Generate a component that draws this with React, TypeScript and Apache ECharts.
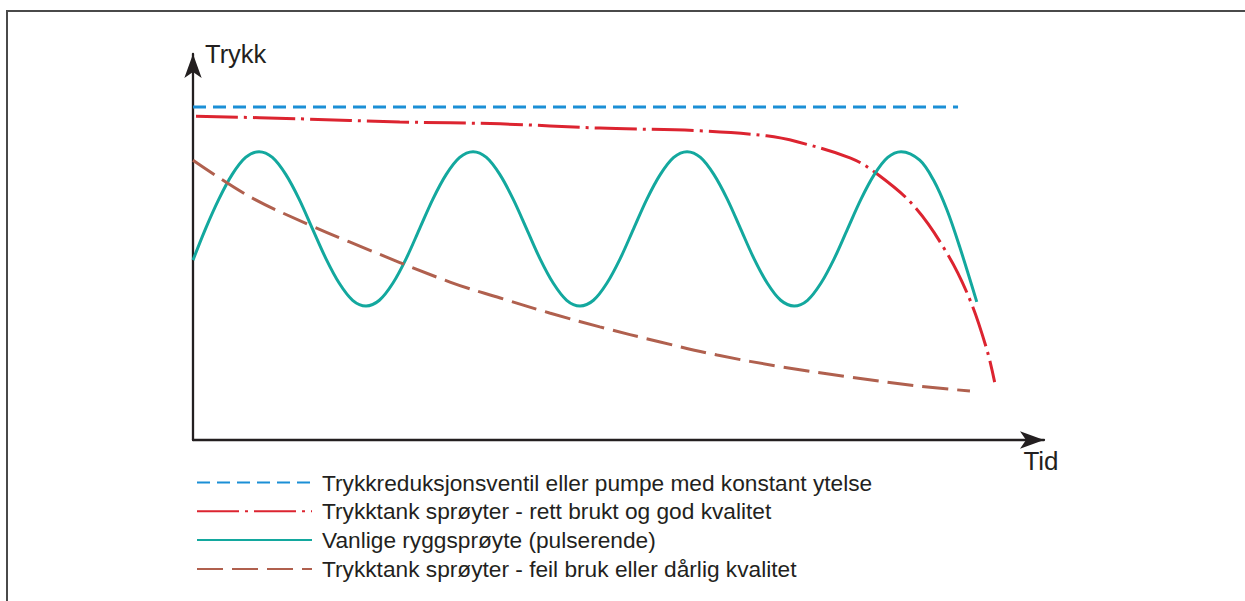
import React, { useEffect, useRef } from "react";
import * as echarts from "echarts";

const seriesNames = [
  "Trykkreduksjonsventil eller pumpe med konstant ytelse",
  "Trykktank sprøyter - rett brukt og god kvalitet",
  "Vanlige ryggsprøyte (pulserende)",
  "Trykktank sprøyter - feil bruk eller dårlig kvalitet",
];

const constantPressure: [number, number][] = [
  [0, 86.3],
  [89.9, 86.3],
];

const tankGood: [number, number][] = [
  [0.35, 83.9], [12.6, 83.2], [24.3, 82.4], [36.1, 81.9], [47.8, 80.8],
  [59.6, 80.1], [67.4, 78.8], [71.1, 77.2], [77.2, 73.1], [80.1, 69.4],
  [84.6, 60.9], [88.6, 48.4], [91.3, 36.3], [93.3, 23.3], [94.2, 15.0],
];

const backpack: [number, number][] = [
  [0, 46.6], [1.47, 54.7], [3.04, 62.4], [4.61, 68.8], [6.18, 73.2],
  [7.76, 74.7], [9.33, 73.2], [10.9, 68.8], [12.47, 62.4], [14.04, 54.7],
  [15.62, 47.0], [17.19, 40.6], [18.76, 36.2], [20.33, 34.7], [21.9, 36.2],
  [23.48, 40.6], [25.05, 47.0], [26.62, 54.7], [28.19, 62.4], [29.76, 68.8],
  [31.34, 73.2], [32.91, 74.7], [34.48, 73.2], [36.05, 68.8], [37.62, 62.4],
  [39.2, 54.7], [40.77, 47.0], [42.34, 40.6], [43.91, 36.2], [45.48, 34.7],
  [47.06, 36.2], [48.63, 40.6], [50.2, 47.0], [51.77, 54.7], [53.34, 62.4],
  [54.92, 68.8], [56.49, 73.2], [58.06, 74.7], [59.63, 73.2], [61.2, 68.8],
  [62.78, 62.4], [64.35, 54.7], [65.92, 47.0], [67.49, 40.6], [69.06, 36.2],
  [70.64, 34.7], [72.21, 36.2], [73.78, 40.6], [75.35, 47.0], [76.92, 54.7],
  [78.5, 62.4], [80.07, 68.8], [81.64, 73.2], [83.21, 74.7], [85.4, 72.5],
  [87.0, 67.4], [88.6, 59.6], [90.1, 50.0], [92.1, 35.8],
];

const tankBad: [number, number][] = [
  [0, 72.5], [6.7, 63.0], [13.7, 55.7], [18.4, 51.3], [30.2, 40.9], [36.1, 36.8],
  [41.9, 32.9], [47.8, 29.3], [54.9, 25.4], [61.6, 22.0], [69.3, 18.9], [77.2, 16.3],
  [85.1, 14.0], [91.3, 12.7],
];

const colors = ["#1b8fd6", "#dc2430", "#13a89e", "#b0604e"];
const FONT = "Liberation Sans";
const TEXT = "#231f20";

export default function App() {
  const ref = useRef<HTMLDivElement>(null);
  useEffect(() => {
    document.body.style.margin = "0";
    const chart = echarts.init(ref.current!, undefined, { renderer: "svg" });
    const axisLine = {
      show: true,
      lineStyle: { color: TEXT, width: 2.3 },
      symbol: ["none", "arrow"],
      symbolSize: [13, 24],
    };
    chart.setOption({
      animation: false,
      backgroundColor: "#ffffff",
      textStyle: { fontFamily: FONT, color: TEXT },
      grid: { left: 193, right: 201, top: 54, bottom: 161 },
      xAxis: {
        type: "value",
        min: 0,
        max: 100,
        name: "Tid",
        nameLocation: "end",
        nameGap: -3,
        nameTextStyle: {
          fontFamily: FONT,
          fontSize: 26,
          color: TEXT,
          align: "center",
          verticalAlign: "top",
          padding: [8, 0, 0, 0],
        },
        axisLine,
        axisTick: { show: false },
        axisLabel: { show: false },
        splitLine: { show: false },
      },
      yAxis: {
        type: "value",
        min: 0,
        max: 100,
        name: "Trykk",
        nameLocation: "end",
        nameGap: 0,
        nameTextStyle: {
          fontFamily: FONT,
          fontSize: 25.5,
          color: TEXT,
          align: "left",
          verticalAlign: "middle",
          padding: [2, 0, 0, 12],
        },
        axisLine,
        axisTick: { show: false },
        axisLabel: { show: false },
        splitLine: { show: false },
      },
      legend: {
        orient: "vertical",
        left: 196,
        top: 471,
        padding: 0,
        itemWidth: 115,
        itemHeight: 14,
        itemGap: 5.8,
        data: seriesNames,
        itemStyle: { color: "rgba(0,0,0,0)", borderWidth: 0, opacity: 0 },
        textStyle: {
          fontFamily: FONT,
          fontSize: 22.7,
          color: TEXT,
          padding: [0, 0, 0, 5],
        },
      },
      graphic: [
        {
          type: "polyline",
          shape: { points: [[7, 601], [7, 11], [1245, 11]] },
          style: { stroke: "#4a4a4a", lineWidth: 2, fill: "none" },
          silent: true,
        },
      ],
      series: [
        {
          name: seriesNames[0],
          type: "line",
          data: constantPressure,
          showSymbol: false,
          symbol: "none",
          color: colors[0],
          lineStyle: { color: colors[0], width: 3, type: [13, 7] },
        },
        {
          name: seriesNames[1],
          type: "line",
          data: tankGood,
          smooth: 0.35,
          showSymbol: false,
          symbol: "none",
          color: colors[1],
          lineStyle: { color: colors[1], width: 3, type: [42, 6, 3, 6] },
        },
        {
          name: seriesNames[2],
          type: "line",
          data: backpack,
          smooth: 0.33,
          showSymbol: false,
          symbol: "none",
          color: colors[2],
          lineStyle: { color: colors[2], width: 3 },
        },
        {
          name: seriesNames[3],
          type: "line",
          data: tankBad,
          smooth: 0.35,
          showSymbol: false,
          symbol: "none",
          color: colors[3],
          lineStyle: { color: colors[3], width: 3, type: [26, 9] },
        },
      ],
    });
    return () => chart.dispose();
  }, []);
  return <div ref={ref} style={{ width: 1245, height: 601 }} />;
}
